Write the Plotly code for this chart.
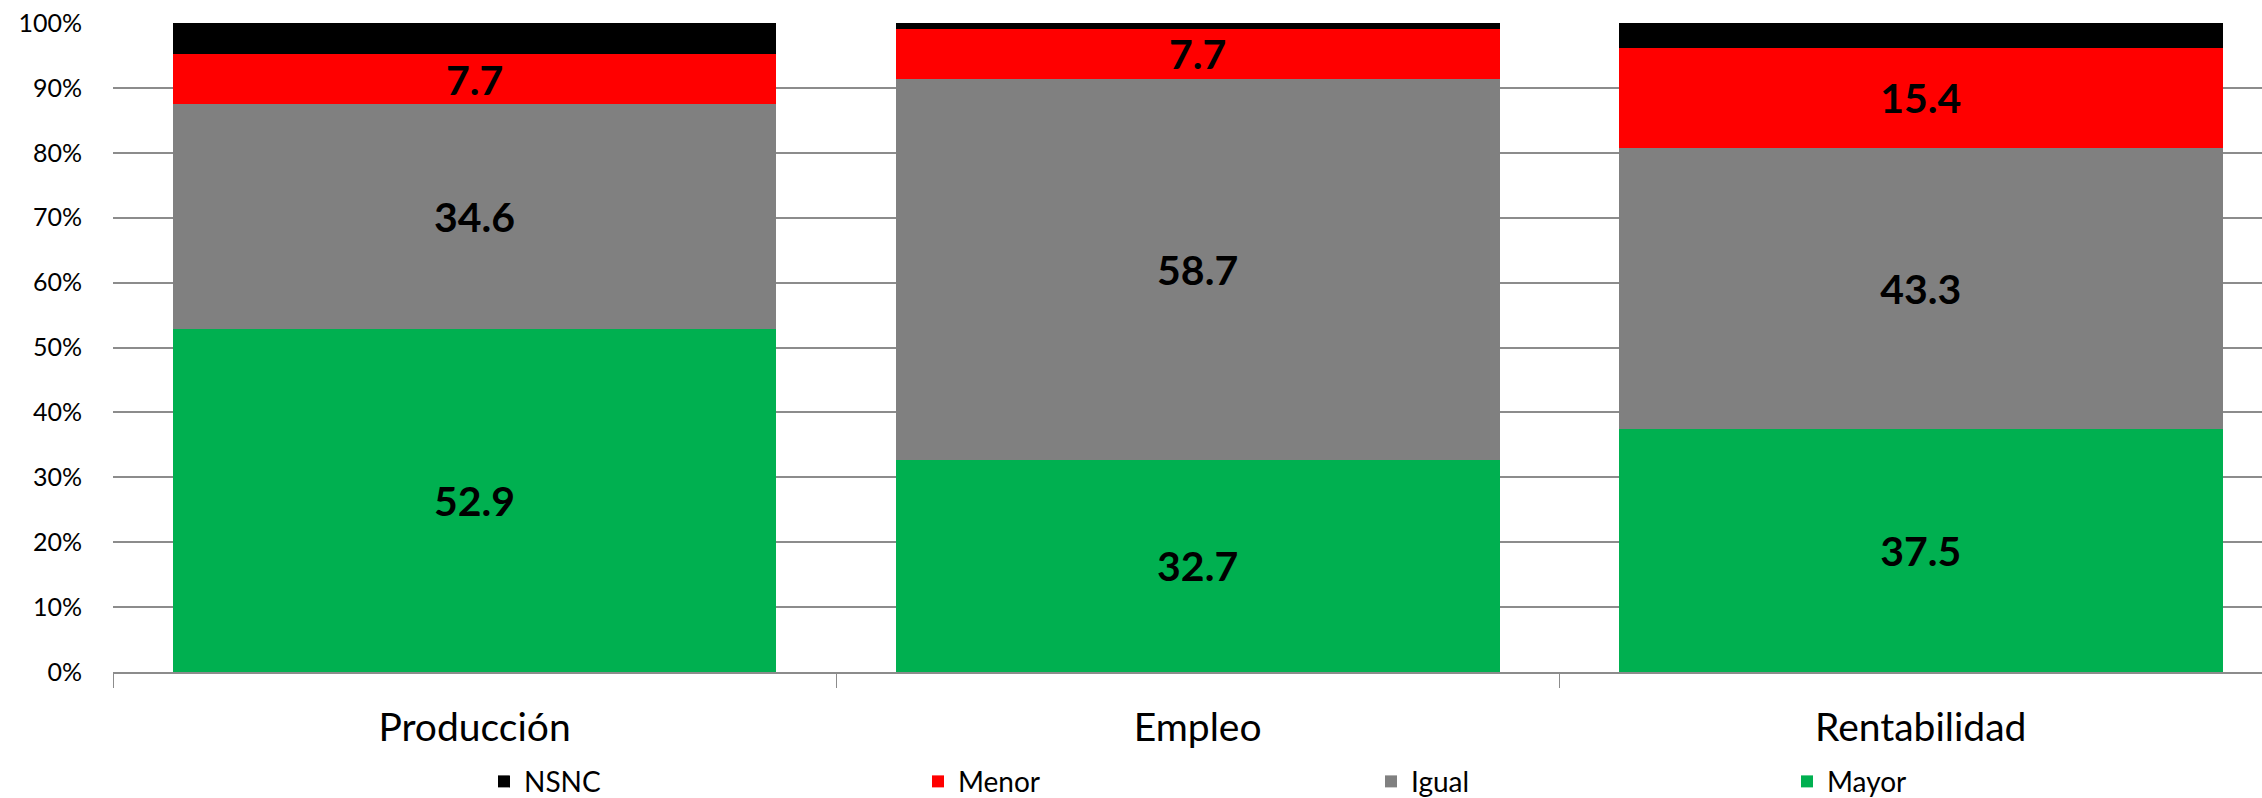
import plotly.graph_objects as go

# Categories and stacked shares (%)
categories = ["Producción", "Empleo", "Rentabilidad"]
mayor = [52.9, 32.7, 37.5]
igual = [34.6, 58.7, 43.3]
menor = [7.7, 7.7, 15.4]
nsnc = [4.8, 0.9, 3.8]

series_names = ["Mayor", "Igual", "Menor", "NSNC"]
series_values = [mayor, igual, menor, nsnc]
series_colors = ["#00B050", "#808080", "#FF0000", "#000000"]
series_labelled = [True, True, True, False]
# each series gets its own legend box, laid out left to right below the axis
series_legends = ["legend4", "legend3", "legend2", "legend"]
legend_left_px = {"legend": 484, "legend2": 918, "legend3": 1371, "legend4": 1787}

FONT = "Lato, 'Open Sans', sans-serif"
GRID = "#8c8c8c"
PLOT_L, PLOT_W = 113, 2149

fig = go.Figure()
for name, vals, color, labelled, leg in zip(series_names, series_values, series_colors,
                                              series_labelled, series_legends):
    fig.add_trace(go.Bar(
        name=name,
        x=categories,
        y=vals,
        legend=leg,
        showlegend=True,
        marker=dict(color=color, line=dict(width=0)),
        texttemplate="<b>%{y:.1f}</b>" if labelled else None,
        textposition="inside" if labelled else "none",
        insidetextanchor="middle",
        textangle=0,
        textfont=dict(family=FONT, size=41, color="black"),
        constraintext="none",
        hoverinfo="skip",
    ))

legend_style = dict(
    orientation="h",
    xanchor="left",
    y=-0.169,
    yanchor="middle",
    font=dict(family=FONT, size=28, color="black"),
    bgcolor="rgba(0,0,0,0)",
    visible=True,
)

fig.update_layout(
    width=2262,
    height=798,
    showlegend=True,
    margin=dict(l=PLOT_L, r=0, t=23, b=126, autoexpand=False),
    barmode="stack",
    bargap=0.165,
    paper_bgcolor="white",
    plot_bgcolor="white",
    font=dict(family=FONT, color="black"),
    xaxis=dict(
        type="category",
        range=[-0.5, 2.472],
        tickson="boundaries",
        ticks="outside",
        ticklen=14,
        tickwidth=1,
        tickcolor=GRID,
        showline=True,
        linecolor=GRID,
        linewidth=2,
        showgrid=False,
        ticklabelstandoff=20,
        tickfont=dict(family=FONT, size=39, color="black"),
    ),
    yaxis=dict(
        range=[0, 100],
        dtick=10,
        ticksuffix="%",
        showgrid=True,
        gridcolor=GRID,
        gridwidth=2,
        zeroline=False,
        showline=False,
        ticks="",
        ticklabelstandoff=30,
        tickfont=dict(family=FONT, size=25, color="black"),
    ),
)
for leg, left in legend_left_px.items():
    fig.update_layout({leg: dict(legend_style, x=(left - PLOT_L) / PLOT_W)})

fig.write_html("out.html")
